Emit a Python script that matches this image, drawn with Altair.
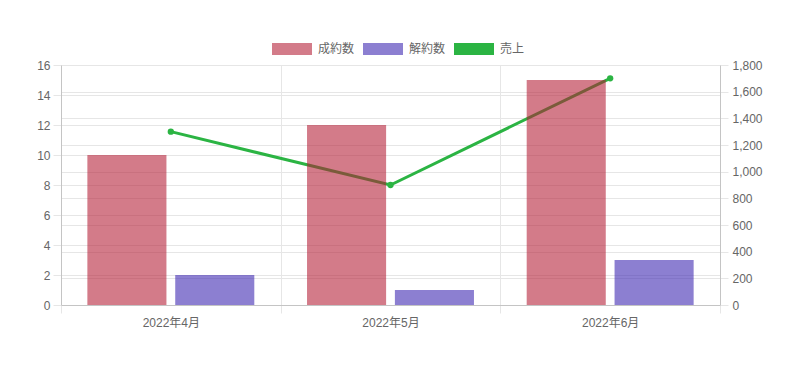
import altair as alt
import pandas as pd

months = ["2022年4月", "2022年5月", "2022年6月"]
contracts = [10, 12, 15]
cancels = [2, 1, 3]
sales = [1300, 900, 1700]
series = ["成約数", "解約数", "売上"]
colors = ["rgba(179,28,51,0.58)", "rgba(57,34,176,0.58)", "#2bb443"]

bars_df = pd.DataFrame(
    [{"month": m, "series": series[0], "count": v} for m, v in zip(months, contracts)]
    + [{"month": m, "series": series[1], "count": v} for m, v in zip(months, cancels)]
)
line_df = pd.DataFrame({"month": months, "sales": sales})

FONT = "Liberation Sans, Noto Sans CJK JP, sans-serif"
GRID = "#e6e6e6"
DOMAIN = "#c4c4c4"

x_enc = alt.X(
    "month:N",
    sort=months,
    scale=alt.Scale(paddingInner=0, paddingOuter=0),
    axis=alt.Axis(
        title=None, labelAngle=0, tickBand="extent", grid=True,
        gridColor=GRID, domainColor=DOMAIN, tickColor=GRID, tickSize=8,
        labelPadding=4,
    ),
)

line = alt.Chart(line_df).mark_line(
    color="#2bb443", strokeWidth=3,
    point=alt.OverlayMarkDef(color="#2bb443", size=40, filled=True, opacity=1),
).encode(
    x=x_enc,
    y=alt.Y(
        "sales:Q",
        scale=alt.Scale(domain=[0, 1800], nice=False),
        axis=alt.Axis(
            orient="right", title=None, values=list(range(0, 1801, 200)), format=",d",
            grid=True, gridColor=GRID, domainColor=DOMAIN, tickColor=GRID, tickSize=8,
            labelPadding=4,
        ),
    ),
)

bars = alt.Chart(bars_df).mark_bar(opacity=1).encode(
    x=x_enc,
    xOffset=alt.XOffset(
        "series:N", sort=series[:2],
        scale=alt.Scale(domain=series[:2], paddingInner=0.1, paddingOuter=0.3),
    ),
    y=alt.Y(
        "count:Q",
        scale=alt.Scale(domain=[0, 16], nice=False),
        axis=alt.Axis(
            orient="left", title=None, values=list(range(0, 17, 2)),
            grid=True, gridColor=GRID, domainColor=DOMAIN, tickColor=GRID, tickSize=8,
            labelPadding=3,
        ),
    ),
    color=alt.Color(
        "series:N",
        scale=alt.Scale(domain=series, range=colors),
        legend=alt.Legend(
            title=None, orient="none", legendX=211, legendY=-36, direction="horizontal",
            symbolType="M-1,-0.3H1V0.3H-1Z", symbolSize=1600, symbolStrokeWidth=0,
            symbolOpacity=1, labelOffset=6, columnPadding=8,
            labelFontSize=12, labelColor="#666666", labelFont=FONT,
        ),
    ),
)

chart = alt.layer(line, bars).resolve_scale(y="independent").properties(
    width=659, height=240,
    padding={"left": 53, "top": 57, "right": 72, "bottom": 55},
    autosize="none",
).configure_view(stroke=None).configure_axis(
    labelFont=FONT, labelFontSize=12, labelColor="#666666",
)

chart.save("out.html", embed_options={"renderer": "svg", "actions": False})
